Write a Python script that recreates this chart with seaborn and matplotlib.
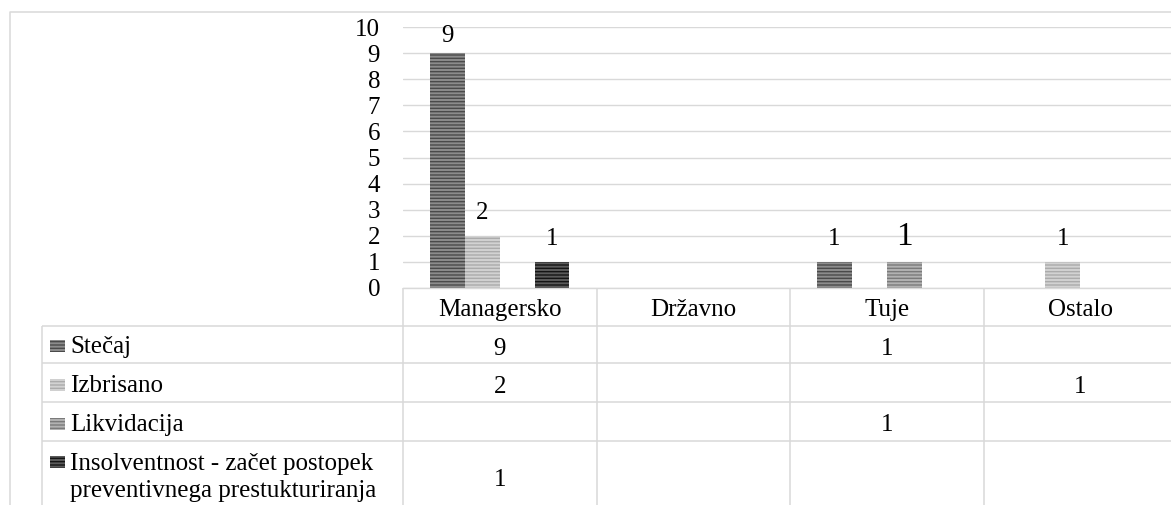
import numpy as np
import pandas as pd
import matplotlib
matplotlib.use("Agg")
import matplotlib.pyplot as plt
from matplotlib.patches import Rectangle
from matplotlib.lines import Line2D
from matplotlib.transforms import blended_transform_factory
import seaborn as sns

# ---- data -------------------------------------------------------------
categories = ["Managersko", "Državno", "Tuje", "Ostalo"]
series = [
    "Stečaj",
    "Izbrisano",
    "Likvidacija",
    "Insolventnost - začet postopek\npreventivnega prestukturiranja",
]
stecaj = [9, 0, 1, 0]
izbrisano = [2, 0, 0, 1]
likvidacija = [0, 0, 1, 0]
insolventnost = [1, 0, 0, 0]
y_ticks = list(range(0, 11))

# ---- styling ----------------------------------------------------------
face_colors = ["#8c8c8c", "#d2d2d2", "#b2b2b2", "#5a5a5a"]
stripe_colors = ["#4a4a4a", "#ababab", "#7a7a7a", "#141414"]
grid_color = "#d9d9d9"
text_color = "#000000"
font_size = 18
big_label = {("Likvidacija", "Tuje"): 24}

sns.set_style("white")
plt.rcParams["font.family"] = ["Liberation Serif", "DejaVu Serif"]
plt.rcParams["hatch.linewidth"] = 1.0

values = [stecaj, izbrisano, likvidacija, insolventnost]
rows = []
for s, vals in zip(series, values):
    for c, v in zip(categories, vals):
        rows.append({"kategorija": c, "serija": s, "vrednost": v})
df = pd.DataFrame(rows)

W, H = 1171, 505
fig = plt.figure(figsize=(W / 100, H / 100), dpi=100)

# full-figure overlay in pixel units for the frame and the data table
over = fig.add_axes([0, 0, 1, 1], zorder=0)
over.set_xlim(0, W)
over.set_ylim(H, 0)
over.axis("off")

# plot area: four category columns, the last one runs past the right edge
plot_left, plot_bottom, plot_top, col_w = 403, 288, 27, 193.5
ax = fig.add_axes([plot_left / W, 1 - plot_bottom / H,
                   4 * col_w / W, (plot_bottom - plot_top) / H], zorder=1)
ax.patch.set_alpha(0)

sns.barplot(data=df, x="kategorija", y="vrednost", hue="serija",
            order=categories, hue_order=series, palette=face_colors,
            saturation=1, width=0.72, linewidth=0, legend=False, ax=ax)

for cont, sc in zip(ax.containers, stripe_colors):
    for p in cont:
        p.set_hatch("-----")
        p.set_edgecolor(sc)
        p.set_linewidth(0)

ax.set_xlim(-0.5, len(categories) - 0.5)
ax.set_ylim(0, 10)
ax.set_yticks(y_ticks)
ax.yaxis.grid(True, color=grid_color, linewidth=1.0)
ax.xaxis.grid(False)
ax.set_axisbelow(True)
for side in ["left", "right", "top"]:
    ax.spines[side].set_visible(False)
ax.spines["bottom"].set_color(grid_color)
ax.spines["bottom"].set_linewidth(1.0)
ax.tick_params(axis="y", length=0, pad=16.5, labelsize=font_size,
               labelcolor=text_color)
ax.tick_params(axis="x", length=0, labelbottom=False)
ax.set_xlabel("")
ax.set_ylabel("")

# value labels above the bars, kept inside the plot area
lab_gap, lab_h = 0.65, 0.58
for s, cont, vals in zip(series, ax.containers, values):
    for c, p, v in zip(categories, cont, vals):
        if not v:
            continue
        xc = p.get_x() + p.get_width() / 2
        yb = min(v + lab_gap, ax.get_ylim()[1] - lab_h)
        ax.text(xc, yb, f"{v}", ha="center", va="baseline",
                fontsize=big_label.get((s, c), font_size), color=text_color,
                clip_on=False)

# ---- outer chart frame -------------------------------------------------
frame_kw = dict(color=grid_color, linewidth=1.1, solid_capstyle="butt")
over.add_line(Line2D([10, 10, W], [H, 12, 12], **frame_kw))

# ---- data table ----------------------------------------------------------
tr = blended_transform_factory(ax.transData, over.transData)
row_lines = [326, 363, 402, 441]
label_x, key_x, key_w, key_h = 70, 50, 15, 12
header_base = 316
row_bases = [353, 392, 431, 469]      # baseline of each label's first line
value_bases = [355, 393, 431, 486]
line_step = 28                        # baseline distance in wrapped labels

for y in row_lines:
    over.add_line(Line2D([42, W], [y, y], **frame_kw))
over.add_line(Line2D([42, 42], [row_lines[0], H], **frame_kw))
for i in range(len(categories) + 1):
    over.add_line(Line2D([i - 0.5, i - 0.5], [plot_bottom, H],
                         transform=tr, **frame_kw))

for i, c in enumerate(categories):
    over.text(i, header_base, c, transform=tr, ha="center", va="baseline",
              fontsize=font_size, color=text_color)

for r, (s, vals) in enumerate(zip(series, values)):
    over.add_patch(Rectangle((key_x, row_bases[r] - 1.5 - key_h), key_w, key_h,
                             facecolor=face_colors[r], edgecolor=stripe_colors[r],
                             hatch="-----", linewidth=0))
    n_lines = s.count("\n") + 1
    over.text(label_x, row_bases[r] + line_step * (n_lines - 1), s,
              ha="left", va="baseline", fontsize=font_size, color=text_color,
              linespacing=1.3)
    for i, v in enumerate(vals):
        if v:
            over.text(i, value_bases[r], f"{v}", transform=tr, ha="center",
                      va="baseline", fontsize=font_size, color=text_color)

fig.savefig("out.png", dpi=100, facecolor="white")
